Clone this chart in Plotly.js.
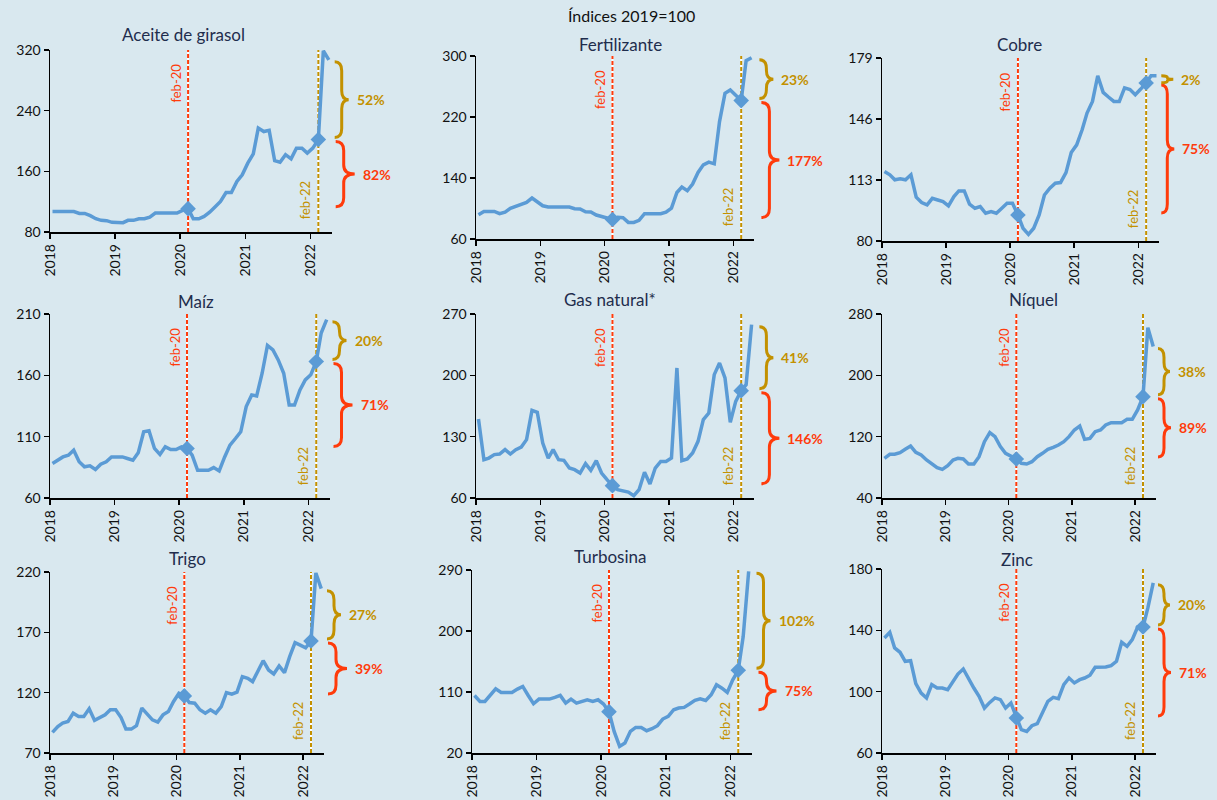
<!DOCTYPE html>
<html><head><meta charset="utf-8">
<script src="https://cdn.plot.ly/plotly-3.0.1.min.js"></script>
<style>html,body{margin:0;padding:0;background:#D9E8EF;}#chart{width:1217px;height:800px;}</style>
</head><body><div id="chart"></div>
<script>
// ---- data ----
const mainTitle = 'Índices 2019=100';
const titles = ['Aceite de girasol','Fertilizante','Cobre','Maíz','Gas natural*','Níquel','Trigo','Turbosina','Zinc'];
const yearTicks = ['2018','2019','2020','2021','2022'];
const yTicks = [
  [80,160,240,320],[60,140,220,300],[80,113,146,179],
  [60,110,160,210],[60,130,200,270],[40,120,200,280],
  [70,120,170,220],[20,110,200,290],[60,100,140,180]
];
const aceite = [107,107,107,107,107,104.5,104.5,101.5,97.5,95.4,95,92.7,92.3,92.3,95.4,95.4,97.5,97.5,99.7,105,105,105,105,105,108.5,110.8,97.5,97.5,100.6,106,113,120.4,132,132,146.7,155.5,170.8,183,217,212.5,214,174,172,182,176.5,190.6,190.6,184,190.6,202,319,307];
const fertilizante = [91.9,96.2,96.2,96.2,93.2,95.3,100.1,102.8,105,108,113.7,109.3,103.6,101.9,101.9,101.9,101.9,101.9,99.7,99.3,95.8,95.3,91.4,89,87.5,85.5,88.4,88,81.8,81.8,84.4,93.2,93.2,93.2,93.2,95.3,100.6,121,128,123.3,132,147.3,157.3,160.8,158.6,214,251,255.5,249,241.5,294,297.8];
const cobre = [117.6,115.8,113.1,113.6,113.1,115.8,103.7,100.8,99.5,103.1,102.2,101.3,99,104,107.1,107.1,99.9,97.7,98.6,95,95.9,95,97.7,100.4,100.4,94.1,86.9,83.6,86.9,94.1,104.9,108.6,111.3,111.6,117,127.9,132,140.2,149.2,155.5,169.4,160.4,157.9,155.5,155.5,162.8,161.9,159.1,162.2,165.5,169.4,169.4];
const maiz = [88.1,90.8,93.5,94.9,99,89.5,85.4,86.2,83.2,87.5,89.5,93.5,93.5,93.5,92.2,90.8,96.8,114,114.8,100.4,95.5,101.7,99.5,99.5,101.7,100.4,94.9,82.6,82.6,82.6,84.8,82.1,93.5,103.1,108.5,114,134.5,144,143.2,161.7,184.4,180.8,172.6,161.7,135.8,135.8,148.1,156.3,160.4,171.3,194.5,205.4];
const gasNatural = [150.2,103.7,105.6,109.5,110.2,115.2,110.2,115.2,118.2,126.6,160,157.8,122.8,105.6,115.2,103.7,103,94.2,92.3,88.5,99.2,91.6,102.6,88.5,80.9,74.1,69.5,67.6,66.8,62.7,69.5,89.3,76,94.2,101.8,101.8,105.6,208.4,102.6,104.5,111.4,124.7,149.4,157,200.8,214.1,197,146.4,170.3,182.5,189.3,257.8];
const niquel = [91.7,97,97,99.1,103.5,107.8,99.6,96.1,89.6,85.2,79.6,77.4,82.2,89.6,91.7,90.9,84.3,84.3,93.9,113.5,125.2,120,107,98.3,94.8,90.9,85.2,84.3,87.4,93.9,98.3,103.5,106.1,109.1,113.5,120,128.7,133.9,116.5,117.8,126.5,128.7,135.2,138.3,138.3,138.3,142.6,142.6,154.8,172.2,262.2,237.5];
const trigo = [87.1,92,94.8,96.1,103,100.3,100.3,106.6,97,98.9,101.6,105.8,105.8,99.4,89.8,89.8,92.6,107.2,102.5,97.5,95.6,101.6,104.4,112.7,119.5,117.3,111.8,111.3,105.8,103,105.8,103,108.5,120.1,118.7,120.4,133.3,131.9,129.2,137.4,146.5,138.8,135.5,142.1,136.6,149.8,161.4,159.4,157.2,162.8,219.2,206.2];
const turbosina = [104.9,96.1,96.1,105.9,114.7,109.3,109.3,109.3,114.3,118.2,104.9,92.7,99.5,99.5,99.5,102,104.9,93.6,99.5,93.6,96.1,98.5,96.1,98.5,92.2,81,51.9,29.8,34.7,51.9,57.8,57.8,52.9,55.8,60.3,70.1,74,83.8,86.3,87.3,92.2,97.6,100,97.6,105.9,120.6,115.7,109.3,128,142,191.8,288];
const zinc = [135,138.7,128.5,125.7,119.8,120.2,105.2,99.1,95.9,104.6,102.4,102.4,101.3,106.7,111.5,114.8,108.3,102.4,97,89.3,93,95.9,94.8,89.3,92.6,82.8,75.2,74.1,77.8,79.1,86.5,93.7,96.3,95.4,104.6,108.9,105.7,107.8,108.9,110.7,115.9,115.9,116.1,117,119.8,132.2,129.6,133.9,142.2,142.2,154.6,171];
const pctCovid = ['82%','177%','75%','71%','146%','89%','39%','75%','71%'];   // feb-20 -> feb-22
const pctWar   = ['52%','23%','2%','20%','41%','38%','27%','102%','20%'];    // feb-22 -> last
const series = [aceite, fertilizante, cobre, maiz, gasNatural, niquel, trigo, turbosina, zinc];

// months (categories): Jan 2018 .. Apr 2022, plotted mid-month
const months = [];
for (let y = 2018; y <= 2022; y++) for (let m = 1; m <= 12; m++) {
  if (y === 2022 && m > 4) break;
  months.push(y + '-' + String(m).padStart(2, '0') + '-15');
}
const yearDates = yearTicks.map(y => y + '-01-01');
const FEB20 = months.indexOf('2020-02-15');
const FEB22 = months.indexOf('2022-02-15');

// ---- style / layout (px) ----
const W = 1217, H = 800;
const BG = '#D9E8EF', BLUE = '#5B9BD5', RED = '#FF3B0B', GOLD = '#C39100', NAVY = '#1F2D4D';
const FONT = 'Lato, "Open Sans", sans-serif';
const dom = [ // x0, x1, ytop, ybottom (px)
  [50,331.7,50,232],[476,754.4,56,239],[882,1159.3,58,241],
  [50,329.5,314,498],[476,754.4,314,498],[882,1156,314,498],
  [50,324,572,753],[472,751.5,570,753],[882,1156,569,753]
];
const titlePos = [[183,35],[620,44],[1019,44],[196,302],[610,299],[1033,299],[187,558],[610,556],[1017,559]];
// brace geometry offsets from the axis end (px): [left end, stem, tip]
const braceLower = [[4,12,23],[7,15,25],[2,8,15]];
const braceUpper = [[3,10,17],[5,12,19],[2,8,14]];

const traces = [];
const layout = {
  width: W, height: H, margin: {l:0, r:0, t:0, b:0},
  paper_bgcolor: BG, plot_bgcolor: BG, showlegend: false,
  font: {family: FONT, size: 14, color: '#111'},
  shapes: [], annotations: []
};

layout.annotations.push({xref:'paper', yref:'paper', x:631/W, y:1-15/H, text:mainTitle,
  showarrow:false, xanchor:'center', yanchor:'middle', font:{size:16, color:'#111'}});

function bracePath(xL, xV, xT, yTop, yBot, q) {
  const ym = (yTop + yBot) / 2;
  return `M ${xL},${yTop} Q ${xV},${yTop} ${xV},${yTop - q} L ${xV},${ym + q} ` +
         `Q ${xV},${ym} ${xT},${ym} Q ${xV},${ym} ${xV},${ym - q} L ${xV},${yBot + q} ` +
         `Q ${xV},${yBot} ${xL},${yBot}`;
}

series.forEach((vals, k) => {
  const n = k === 0 ? '' : String(k + 1);
  const d = dom[k];
  const col = k % 3;
  const yt = yTicks[k];
  const yr = yt[3] - yt[0];
  const hpx = d[3] - d[2];
  const pxToData = yr / hpx;

  layout['xaxis' + n] = {
    domain: [d[0]/W, d[1]/W], anchor: 'y' + n, type: 'date',
    range: ['2018-01-01', '2022-05-01'], tickmode: 'array', tickvals: yearDates, ticktext: yearTicks,
    tickangle: -90, showline: true, linecolor: '#000', linewidth: 1.5,
    ticks: 'outside', ticklen: 5, tickwidth: 1.5, tickcolor: '#000',
    showgrid: false, zeroline: false, fixedrange: true, tickfont: {size: 14, color: '#111'}
  };
  layout['yaxis' + n] = {
    domain: [1 - d[3]/H, 1 - d[2]/H], anchor: 'x' + n, range: [yt[0], yt[3]],
    tickmode: 'array', tickvals: yt, showline: true, linecolor: '#000', linewidth: 1.5,
    ticks: 'outside', ticklen: 5, tickwidth: 1.5, tickcolor: '#000',
    showgrid: false, zeroline: false, fixedrange: true, tickfont: {size: 14, color: '#111'}
  };

  traces.push({x: months, y: vals, xaxis: 'x' + n, yaxis: 'y' + n, type: 'scatter', mode: 'lines',
    line: {color: BLUE, width: 3.5}, hoverinfo: 'skip'});
  traces.push({x: [months[FEB20], months[FEB22]], y: [vals[FEB20], vals[FEB22]], xaxis: 'x' + n, yaxis: 'y' + n,
    type: 'scatter', mode: 'markers', marker: {symbol: 'diamond', size: 12, color: BLUE}, hoverinfo: 'skip'});

  // vertical reference lines
  [[FEB20, RED, 'feb-20'], [FEB22, GOLD, 'feb-22']].forEach(([idx, c, lab]) => {
    const base = {type: 'line', xref: 'x' + n, yref: 'y' + n + ' domain', x0: months[idx], x1: months[idx], y0: 0, y1: 1, layer: 'below'};
    layout.shapes.push(Object.assign({}, base, {line: {color: '#FFFFFF', width: 2}}));
    layout.shapes.push(Object.assign({}, base, {line: {color: c, width: 2, dash: '4px,2px'}}));
    const top = lab === 'feb-20';
    layout.annotations.push({xref: 'x' + n, yref: 'y' + n + ' domain', x: months[idx],
      y: top ? 1 : 0, yanchor: top ? 'top' : 'bottom', yshift: top ? -12 : 11,
      xanchor: 'right', xshift: -3, textangle: -90, text: lab, showarrow: false,
      font: {size: 13, color: c}});
  });

  // panel title
  layout.annotations.push({xref: 'paper', yref: 'paper', x: titlePos[k][0]/W, y: 1 - titlePos[k][1]/H,
    text: titles[k], showarrow: false, xanchor: 'center', yanchor: 'middle', font: {size: 17, color: NAVY}});

  // braces: feb-20 -> feb-22 (red) and feb-22 -> last (gold)
  const v20 = vals[FEB20], v22 = vals[FEB22], vLast = vals[vals.length - 1];
  const gap = 2 * pxToData;
  const braces = [
    {lo: v20, hi: v22, c: RED, txt: pctCovid[k], g: braceLower[col]},
    {lo: v22, hi: vLast, c: GOLD, txt: pctWar[k], g: braceUpper[col]}
  ];
  braces.forEach(b => {
    let yTop = Math.max(b.lo, b.hi) - gap, yBot = Math.min(b.lo, b.hi) + gap;
    if (yTop - yBot < 5 * pxToData) { const m = (yTop + yBot) / 2; yTop = m + 3.5 * pxToData; yBot = m - 3.5 * pxToData; }
    const h = yTop - yBot;
    const q = Math.min(9 * pxToData, h / 4);
    const xL = (d[1] + b.g[0]) / W, xV = (d[1] + b.g[1]) / W, xT = (d[1] + b.g[2]) / W;
    layout.shapes.push({type: 'path', xref: 'paper', yref: 'y' + n, path: bracePath(xL, xV, xT, yTop, yBot, q),
      line: {color: b.c, width: 3}, layer: 'above'});
    layout.annotations.push({xref: 'paper', yref: 'y' + n, x: (d[1] + b.g[2] + 6) / W, y: (yTop + yBot) / 2,
      xanchor: 'left', yanchor: 'middle', text: b.txt, showarrow: false,
      font: {size: 14, color: b.c, weight: 'bold'}});
  });
});

Plotly.newPlot('chart', traces, layout, {displayModeBar: false, staticPlot: true});
</script>
</body></html>
